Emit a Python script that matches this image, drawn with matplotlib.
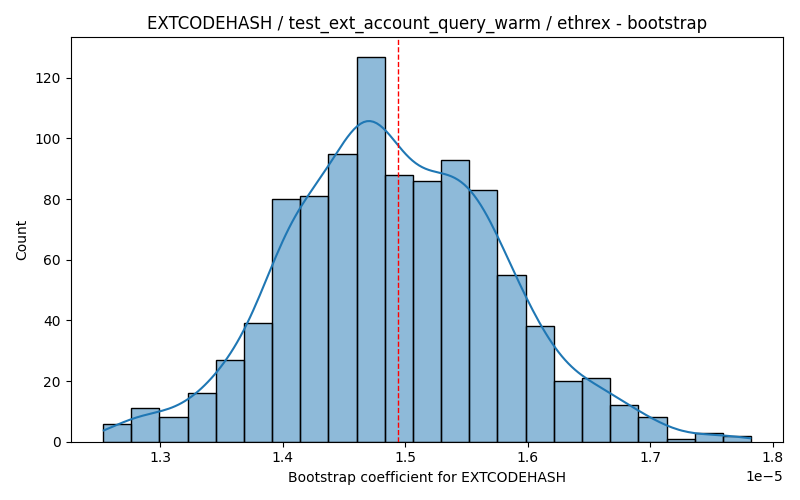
import matplotlib
matplotlib.use("Agg")
import matplotlib.pyplot as plt
import numpy as np
import seaborn as sns

# bootstrap histogram (23 bins)
bin_lo = 1.2535e-5
bin_hi = 1.7825e-5
counts = [6, 11, 8, 16, 27, 39, 80, 81, 95, 127, 88, 86,
          93, 83, 55, 38, 20, 21, 12, 8, 1, 3, 2]
point_estimate = 1.494e-5

opcode = "EXTCODEHASH"
test_name = "test_ext_account_query_warm"
client = "ethrex"

edges = np.linspace(bin_lo, bin_hi, len(counts) + 1)
centers = (edges[:-1] + edges[1:]) / 2
# one value per bootstrap draw, placed at its bin centre
samples = np.repeat(centers, counts)

fig, ax = plt.subplots(figsize=(8, 5), dpi=100)
sns.histplot(x=samples, bins=len(counts), binrange=(bin_lo, bin_hi),
             kde=True, kde_kws={"cut": 0.5}, ax=ax, edgecolor="black")
ax.axvline(point_estimate, color="red", linestyle="--", linewidth=1)

ax.set_title(f"{opcode} / {test_name} / {client} - bootstrap")
ax.set_xlabel(f"Bootstrap coefficient for {opcode}")
ax.set_ylabel("Count")

plt.tight_layout()
fig.savefig("out.png")
